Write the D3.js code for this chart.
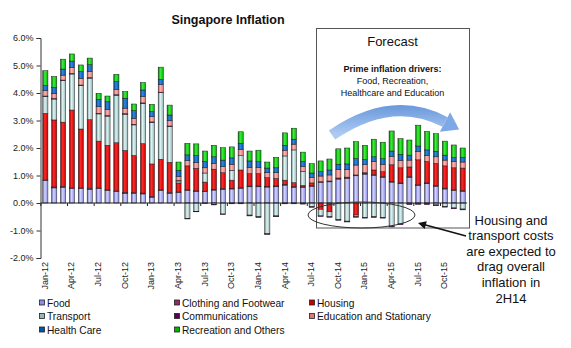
<!DOCTYPE html>
<html>
<head>
<meta charset="utf-8">
<script src="https://cdn.jsdelivr.net/npm/d3@7"></script>
<style>
	body { margin: 0; background: #fff; }
	svg { display: block; font-family: "Liberation Sans", Arial, sans-serif; }
</style>
</head>
<body>
<svg id="chart" width="571" height="348"></svg>
<script>
// Monthly contribution to headline CPI (percentage points), Jan-12 .. Dec-15
const months = [
	"Jan-12", "Feb-12", "Mar-12", "Apr-12", "May-12", "Jun-12", "Jul-12", "Aug-12", "Sep-12", "Oct-12", "Nov-12", "Dec-12",
	"Jan-13", "Feb-13", "Mar-13", "Apr-13", "May-13", "Jun-13", "Jul-13", "Aug-13", "Sep-13", "Oct-13", "Nov-13", "Dec-13",
	"Jan-14", "Feb-14", "Mar-14", "Apr-14", "May-14", "Jun-14", "Jul-14", "Aug-14", "Sep-14", "Oct-14", "Nov-14", "Dec-14",
	"Jan-15", "Feb-15", "Mar-15", "Apr-15", "May-15", "Jun-15", "Jul-15", "Aug-15", "Sep-15", "Oct-15", "Nov-15", "Dec-15",
];
const tickLabels = [
	"Jan-12", "Apr-12", "Jul-12", "Oct-12", "Jan-13", "Apr-13", "Jul-13", "Oct-13",
	"Jan-14", "Apr-14", "Jul-14", "Oct-14", "Jan-15", "Apr-15", "Jul-15", "Oct-15",
];
const yTicks = [-2, -1, 0, 1, 2, 3, 4, 5, 6];

const food = [
	0.81, 0.55, 0.57, 0.52, 0.52, 0.50, 0.52, 0.45, 0.41, 0.35, 0.35, 0.33,
	0.21, 0.45, 0.35, 0.38, 0.45, 0.41, 0.41, 0.47, 0.50, 0.51, 0.53, 0.59,
	0.59, 0.58, 0.59, 0.65, 0.57, 0.57, 0.60, 0.75, 0.77, 0.87, 0.89, 0.99,
	1.05, 1.00, 0.93, 0.76, 0.70, 0.93, 0.63, 0.70, 0.61, 0.51, 0.45, 0.42,
];
const clothing = [
	0.03, 0.03, 0.04, 0.03, 0.03, 0.04, 0.03, 0.03, 0.03, 0.04, 0.03, 0.03,
	0.03, 0.03, 0.03, 0.02, 0.03, 0.03, 0.02, 0.03, 0.03, 0.02, 0.03, 0.03,
	0.03, 0.02, 0.03, 0.03, 0.03, 0.02, 0.03, 0.03, 0.03, 0.02, 0.03, 0.03,
	0.03, 0.03, 0.03, 0.03, 0.03, 0.03, 0.03, 0.03, 0.03, 0.03, 0.03, 0.03,
];
const housing = [
	2.42, 2.44, 2.33, 2.83, 2.14, 2.49, 1.70, 1.62, 1.75, 1.52, 1.35, 1.80,
	1.18, 1.11, 1.10, 0.33, 0.87, 0.82, 0.33, 0.73, 0.57, 0.30, 0.64, 0.45,
	0.45, 0.32, 0.27, 0.15, 0.14, 0.05, 0.10, -0.23, -0.32, 0.02, 0.02, -0.44,
	0.02, 0.17, 0.18, 0.60, 0.55, 0.35, 0.91, 0.78, 0.80, 0.81, 0.80, 0.82,
];
const transport = [
	0.61, 0.76, 1.51, 1.31, 1.58, 1.51, 0.99, 1.06, 1.73, 1.32, 1.11, 1.46,
	1.51, 2.42, 1.30, 0.07, -0.56, -0.30, 0.33, -0.05, -0.40, 0.36, 0.52, -0.44,
	-0.50, -1.12, -0.47, 0.88, 1.19, 0.51, -0.13, -0.24, -0.18, -0.60, -0.66, -0.05,
	-0.52, -0.50, -0.52, -0.84, -0.76, -0.03, -0.02, -0.03, -0.07, -0.12, -0.18, -0.22,
];
const communications = [
	0.02, 0.02, 0.02, 0.02, 0.02, 0.02, 0.02, 0.02, 0.02, 0.02, 0.02, 0.02,
	0.02, 0.02, 0.02, 0.02, -0.02, -0.02, -0.02, -0.02, -0.02, -0.03, -0.03, -0.03,
	-0.03, -0.03, -0.03, -0.03, -0.03, -0.04, -0.03, -0.02, -0.02, -0.03, -0.03, -0.03,
	-0.03, -0.03, -0.03, -0.03, -0.03, -0.03, -0.03, -0.03, -0.03, -0.03, -0.03, -0.03,
];
const education = [
	0.20, 0.19, 0.18, 0.21, 0.24, 0.23, 0.24, 0.23, 0.19, 0.20, 0.22, 0.23,
	0.19, 0.28, 0.19, 0.15, 0.19, 0.21, 0.19, 0.21, 0.22, 0.22, 0.23, 0.22,
	0.22, 0.18, 0.21, 0.21, 0.21, 0.18, 0.20, 0.20, 0.22, 0.30, 0.28, 0.36,
	0.30, 0.30, 0.27, 0.30, 0.27, 0.25, 0.30, 0.22, 0.24, 0.21, 0.22, 0.22,
];
const healthCare = [
	0.18, 0.21, 0.22, 0.24, 0.25, 0.24, 0.27, 0.27, 0.28, 0.36, 0.28, 0.24,
	0.18, 0.18, 0.21, 0.22, 0.21, 0.25, 0.23, 0.24, 0.24, 0.23, 0.22, 0.24,
	0.21, 0.17, 0.18, 0.18, 0.18, 0.18, 0.16, 0.16, 0.18, 0.20, 0.20, 0.24,
	0.18, 0.18, 0.20, 0.20, 0.22, 0.18, 0.20, 0.20, 0.20, 0.18, 0.15, 0.17,
];
const recreation = [
	0.54, 0.40, 0.36, 0.26, 0.24, 0.24, 0.22, 0.21, 0.27, 0.24, 0.24, 0.27,
	0.27, 0.45, 0.36, 0.30, 0.42, 0.43, 0.38, 0.42, 0.45, 0.40, 0.42, 0.36,
	0.42, 0.22, 0.38, 0.45, 0.40, 0.34, 0.34, 0.39, 0.40, 0.56, 0.58, 0.61,
	0.52, 0.64, 0.60, 0.73, 0.57, 0.55, 0.76, 0.67, 0.64, 0.51, 0.46, 0.34,
];

// series: key, legend name, values, gradient stops (edge, highlight, base)
const series = [
	{ key: "food", name: "Food", values: food, colors: ["#6262b8", "#d4d4ff", "#8c8ce8"] },
	{ key: "clothing", name: "Clothing and Footwear", values: clothing, colors: ["#5a1c3a", "#c06890", "#8a3060"] },
	{ key: "housing", name: "Housing", values: housing, colors: ["#8a0000", "#ff2a2a", "#c80000"] },
	{ key: "transport", name: "Transport", values: transport, colors: ["#5f8a8a", "#e2f4f4", "#93baba"] },
	{ key: "communications", name: "Communications", values: communications, colors: ["#3a003a", "#8c208c", "#5a005a"] },
	{ key: "education", name: "Education and Stationary", values: education, colors: ["#b05454", "#ffb4b4", "#e07676"] },
	{ key: "healthCare", name: "Health Care", values: healthCare, colors: ["#00386f", "#2f8ae6", "#0056a8"] },
	{ key: "recreation", name: "Recreation and Others", values: recreation, colors: ["#007000", "#3cf03c", "#00b400"] },
];

const svg = d3.select("#chart");
const defs = svg.append("defs");

// cylinder-ish shading for each series
series.forEach((s) => {
	const g = defs
		.append("linearGradient")
		.attr("id", "grad-" + s.key)
		.attr("x1", 0)
		.attr("x2", 1)
		.attr("y1", 0)
		.attr("y2", 0);
	g.append("stop").attr("offset", "0%").attr("stop-color", s.colors[0]);
	g.append("stop").attr("offset", "40%").attr("stop-color", s.colors[1]);
	g.append("stop").attr("offset", "100%").attr("stop-color", s.colors[2]);
});

const rows = months.map((m, i) => {
	const row = { month: m };
	series.forEach((s) => (row[s.key] = s.values[i]));
	return row;
});

const stacked = d3
	.stack()
	.keys(series.map((s) => s.key))
	.offset(d3.stackOffsetDiverging)(rows);

const x = d3
	.scaleBand()
	.domain(months)
	.range([40.9, 467.1])
	.paddingInner(0.42)
	.paddingOuter(0.21);

const y = d3.scaleLinear().domain([-2, 6]).range([258, 38]);

// bars
const layers = svg
	.append("g")
	.selectAll("g")
	.data(stacked)
	.join("g")
	.attr("fill", (d) => `url(#grad-${d.key})`);

layers
	.selectAll("rect")
	.data((d) => d)
	.join("rect")
	.attr("x", (d) => x(d.data.month))
	.attr("width", x.bandwidth())
	.attr("y", (d) => y(Math.max(d[0], d[1])))
	.attr("height", (d) => Math.abs(y(d[0]) - y(d[1])))
	.attr("stroke", "#1c1c1c")
	.attr("stroke-width", 0.5);

// y axis
const yAxis = svg
	.append("g")
	.attr("transform", "translate(40.5,0)")
	.call(
		d3
			.axisLeft(y)
			.tickValues(yTicks)
			.tickSize(4)
			.tickPadding(3)
			.tickFormat((d) => d.toFixed(1) + "%")
	);
yAxis.selectAll("text").attr("font-size", 9).attr("fill", "#222").attr("font-family", null);
yAxis.selectAll("line, path").attr("stroke", "#333");

// zero line with a tick every quarter
const step = x.step();
svg
	.append("line")
	.attr("x1", 40.5)
	.attr("x2", 467.1)
	.attr("y1", y(0))
	.attr("y2", y(0))
	.attr("stroke", "#222")
	.attr("stroke-width", 1);

svg
	.append("g")
	.selectAll("line")
	.data(tickLabels)
	.join("line")
	.attr("x1", (d) => x(d) - (step * x.paddingInner()) / 2)
	.attr("x2", (d) => x(d) - (step * x.paddingInner()) / 2)
	.attr("y1", y(0))
	.attr("y2", y(0) + 3)
	.attr("stroke", "#222");

svg
	.append("g")
	.selectAll("text")
	.data(tickLabels)
	.join("text")
	.attr("transform", (d) => `translate(${x(d) + x.bandwidth() / 2 + 2.5},262) rotate(-90)`)
	.attr("text-anchor", "end")
	.attr("font-size", 9)
	.attr("fill", "#222")
	.text((d) => d);

// title
svg
	.append("text")
	.attr("x", 228)
	.attr("y", 24)
	.attr("text-anchor", "middle")
	.attr("font-size", 12.5)
	.attr("font-weight", "bold")
	.attr("fill", "#111")
	.text("Singapore Inflation");

// legend, three columns
const legendCols = [39.5, 174.5, 309.5];
const legendRows = [306.5, 320, 333.5];
const legend = svg
	.append("g")
	.selectAll("g")
	.data(series)
	.join("g")
	.attr("transform", (d, i) => `translate(${legendCols[i % 3]},${legendRows[Math.floor(i / 3)]})`);

legend
	.append("rect")
	.attr("x", 0)
	.attr("y", -6.5)
	.attr("width", 5)
	.attr("height", 5)
	.attr("fill", (d) => d.colors[2])
	.attr("stroke", "#222")
	.attr("stroke-width", 0.8);

legend
	.append("text")
	.attr("x", 7.5)
	.attr("y", 0)
	.attr("font-size", 10.2)
	.attr("fill", "#111")
	.text((d) => d.name);

// forecast panel
const panel = svg.append("g");
panel
	.append("rect")
	.attr("x", 316.5)
	.attr("y", 28.5)
	.attr("width", 153)
	.attr("height", 199.5)
	.attr("fill", "none")
	.attr("stroke", "#555")
	.attr("stroke-width", 1);

panel
	.append("text")
	.attr("x", 392.5)
	.attr("y", 46)
	.attr("text-anchor", "middle")
	.attr("font-size", 13)
	.attr("fill", "#111")
	.text("Forecast");

const driverLines = ["Prime inflation drivers:", "Food, Recreation,", "Healthcare and Education"];
panel
	.selectAll("text.driver")
	.data(driverLines)
	.join("text")
	.attr("class", "driver")
	.attr("x", 392.5)
	.attr("y", (d, i) => 71.5 + i * 12)
	.attr("text-anchor", "middle")
	.attr("font-size", 9)
	.attr("font-weight", (d, i) => (i === 0 ? "bold" : "normal"))
	.attr("fill", "#111")
	.text((d) => d);

// curved blue arrow over the forecast bars
const arcGrad = defs
	.append("linearGradient")
	.attr("id", "arc-grad")
	.attr("gradientUnits", "userSpaceOnUse")
	.attr("x1", 0)
	.attr("y1", 100)
	.attr("x2", 0)
	.attr("y2", 135);
arcGrad.append("stop").attr("offset", "0%").attr("stop-color", "#5d8fd8");
arcGrad.append("stop").attr("offset", "100%").attr("stop-color", "#aecbf2");

const p0 = [332, 135];
const pc = [392, 94];
const p1 = [445, 122];
panel
	.append("path")
	.attr("d", `M${p0}Q${pc} ${p1}`)
	.attr("fill", "none")
	.attr("stroke", "url(#arc-grad)")
	.attr("stroke-width", 11);

const dir = [p1[0] - pc[0], p1[1] - pc[1]];
const len = Math.hypot(dir[0], dir[1]);
const u = [dir[0] / len, dir[1] / len];
const n = [-u[1], u[0]];
panel
	.append("path")
	.attr(
		"d",
		`M${p1[0] + n[0] * 11},${p1[1] + n[1] * 11}` +
			`L${p1[0] + u[0] * 16},${p1[1] + u[1] * 16}` +
			`L${p1[0] - n[0] * 11},${p1[1] - n[1] * 11}Z`
	)
	.attr("fill", "#7fa8e6");

// ellipse around the negative housing / transport bars
panel
	.append("ellipse")
	.attr("cx", 361.5)
	.attr("cy", 215)
	.attr("rx", 53.5)
	.attr("ry", 13)
	.attr("fill", "none")
	.attr("stroke", "#333")
	.attr("stroke-width", 1);

// pointer from the note to the ellipse
const from = [466, 236];
const to = [418, 223];
const pd = [to[0] - from[0], to[1] - from[1]];
const pl = Math.hypot(pd[0], pd[1]);
const pu = [pd[0] / pl, pd[1] / pl];
const pn = [-pu[1], pu[0]];
svg
	.append("line")
	.attr("x1", from[0])
	.attr("y1", from[1])
	.attr("x2", to[0] - pu[0] * 6)
	.attr("y2", to[1] - pu[1] * 6)
	.attr("stroke", "#111")
	.attr("stroke-width", 1.5);
svg
	.append("path")
	.attr(
		"d",
		`M${to}L${to[0] - pu[0] * 8 + pn[0] * 4},${to[1] - pu[1] * 8 + pn[1] * 4}` +
			`L${to[0] - pu[0] * 8 - pn[0] * 4},${to[1] - pu[1] * 8 - pn[1] * 4}Z`
	)
	.attr("fill", "#111");

const noteLines = ["Housing and", "transport costs", "are expected to", "drag overall", "inflation in", "2H14"];
svg
	.append("g")
	.selectAll("text")
	.data(noteLines)
	.join("text")
	.attr("x", 511)
	.attr("y", (d, i) => 224.5 + i * 15.6)
	.attr("text-anchor", "middle")
	.attr("font-size", 13)
	.attr("fill", "#111")
	.text((d) => d);
</script>
</body>
</html>
